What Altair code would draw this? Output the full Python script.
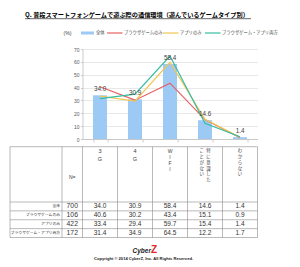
import altair as alt
import pandas as pd

# ---------------- data ----------------
categories = ["3G", "4G", "WIFI", "特に意識したことがない", "わからない"]
groups = ["全体", "ブラウザゲームのみ", "アプリのみ", "ブラウザゲーム・アプリ両方"]
n_values = [700, 106, 422, 172]
overall = [34.0, 30.9, 58.4, 14.6, 1.4]
browser_only = [40.6, 30.2, 43.4, 15.1, 0.9]
app_only = [33.4, 29.4, 59.7, 15.4, 1.4]
both = [31.4, 34.9, 64.5, 12.2, 1.7]
y_ticks = [0, 10, 20, 30, 40, 50, 60, 70]

title_text = "Q. 普段スマートフォンゲームで遊ぶ際の通信環境（遊んでいるゲームタイプ別）"
unit_text = "(%)"
copyright_text = "Copyright © 2014 CyberZ, Inc.  All Rights Reserved."

# header texts (vertical writing)
header_short = {"3G": "3\nG", "4G": "4\nG"}
header_wifi = {"WIFI": "W\nI\nF\nI"}
header_jp = {"わからない": "わ\nか\nら\nな\nい"}
header_toku_right = "特\nに\n意\n識\nし\nた"
header_toku_left = "こ\nと\nが\nな\nい"

# ---------------- style ----------------
FONT = "Liberation Sans, Noto Sans CJK JP"
JFONT = "Noto Sans CJK JP"
BLUE = "#9DC9F5"
RED = "#E5605E"
YELLOW = "#F4C650"
TEAL = "#36BCA2"
BORDER = "#8C8C8C"
TXT = "#333333"

PW, PH = 175, 90  # plot area
xscale = alt.Scale(domain=categories, paddingInner=0.6, paddingOuter=0.3)
yscale = alt.Scale(domain=[0, 70])

# row band positions (relative to plot origin)
HEAD_TOP = 97.7
ROW_TOP = 153.0
ROW_BOT = 188.5
TABLE_L = -72.5
LABEL_R = -20.5
rowscale = alt.Scale(domain=groups, range=[ROW_TOP, ROW_BOT], paddingInner=0, paddingOuter=0)

df_bar = pd.DataFrame({"cat": categories, "value": overall})

layers = []

# bars
layers.append(
    alt.Chart(df_bar).mark_bar(color=BLUE).encode(
        x=alt.X("cat:N", scale=xscale, sort=categories,
                axis=alt.Axis(labels=False, title=None, tickBand="extent", ticks=True,
                              tickSize=3, domainColor="#BFBFBF", tickColor="#BFBFBF",
                              domainWidth=0.8, tickWidth=0.8, grid=False)),
        y=alt.Y("value:Q", scale=yscale,
                axis=alt.Axis(values=y_ticks, grid=True, gridColor="#D9D9D9", gridWidth=0.6,
                              domainColor="#BFBFBF", tickColor="#BFBFBF", tickSize=2,
                              domainWidth=0.8, tickWidth=0.8,
                              labelFontSize=5, labelColor="#595959", labelPadding=1.5,
                              labelFont=FONT, title=None)),
    )
)

# lines
for vals, col in [(browser_only, RED), (app_only, YELLOW), (both, TEAL)]:
    d = pd.DataFrame({"cat": categories, "value": vals})
    layers.append(
        alt.Chart(d).mark_line(color=col, strokeWidth=1.2).encode(
            x=alt.X("cat:N", scale=xscale, sort=categories),
            y=alt.Y("value:Q", scale=yscale, axis=None),
        )
    )

# bar labels
layers.append(
    alt.Chart(df_bar).mark_text(fontSize=6.3, color="#404040", dy=-6, font=FONT).encode(
        x=alt.X("cat:N", scale=xscale, sort=categories),
        y=alt.Y("value:Q", scale=yscale, axis=None),
        text=alt.Text("value:Q", format=".1f"),
    )
)

# ---------------- title ----------------
layers.append(
    alt.Chart(pd.DataFrame({"t": [title_text]})).mark_text(
        align="left", baseline="alphabetic", fontSize=6.2, fontWeight="bold", font=JFONT, color="#000000"
    ).encode(x=alt.value(-57.5), y=alt.value(-32), text="t:N")
)
layers.append(
    alt.Chart(pd.DataFrame({"a": [0]})).mark_rule(color="#000000", strokeWidth=0.6).encode(
        x=alt.value(-57.5), x2=alt.value(168.5), y=alt.value(-30.3)
    )
)

# ---------------- legend ----------------
LY = -16
layers.append(
    alt.Chart(pd.DataFrame({"t": [unit_text]})).mark_text(
        align="center", baseline="middle", fontSize=5, font=FONT, color="#404040"
    ).encode(x=alt.value(-15), y=alt.value(LY - 0.5), text="t:N")
)
layers.append(
    alt.Chart(pd.DataFrame({"a": [0]})).mark_rect(color=BLUE).encode(
        x=alt.value(-1.5), x2=alt.value(11.5), y=alt.value(LY - 1.5), y2=alt.value(LY + 1.5)
    )
)
legend_items = [(groups[0], None, 13.5), (groups[1], RED, 41.5), (groups[2], YELLOW, 97.5), (groups[3], TEAL, 139.5)]
for name, col, tx in legend_items:
    if col is not None:
        layers.append(
            alt.Chart(pd.DataFrame({"a": [0]})).mark_rule(color=col, strokeWidth=1.2).encode(
                x=alt.value(tx - 17), x2=alt.value(tx - 1.5), y=alt.value(LY)
            )
        )
    layers.append(
        alt.Chart(pd.DataFrame({"t": [name]})).mark_text(
            align="left", baseline="middle", fontSize=4.3, font=JFONT, color="#404040"
        ).encode(x=alt.value(tx), y=alt.value(LY), text="t:N")
    )

# ---------------- table ----------------
# borders
h_lines = [HEAD_TOP, ROW_TOP, ROW_TOP + (ROW_BOT - ROW_TOP) / 4, ROW_TOP + (ROW_BOT - ROW_TOP) / 2,
           ROW_TOP + 3 * (ROW_BOT - ROW_TOP) / 4, ROW_BOT]
for yy in h_lines:
    layers.append(
        alt.Chart(pd.DataFrame({"a": [0]})).mark_rule(color=BORDER, strokeWidth=0.6).encode(
            x=alt.value(TABLE_L), x2=alt.value(PW), y=alt.value(yy)
        )
    )
step = PW / len(categories)
v_lines = [TABLE_L, LABEL_R] + [i * step for i in range(len(categories) + 1)]
for xx in v_lines:
    layers.append(
        alt.Chart(pd.DataFrame({"a": [0]})).mark_rule(color=BORDER, strokeWidth=0.6).encode(
            x=alt.value(xx), y=alt.value(HEAD_TOP), y2=alt.value(ROW_BOT)
        )
    )

# header
def header_layer(mapping, size, lh, font, dx=0):
    d = pd.DataFrame({"cat": list(mapping.keys()), "t": list(mapping.values())})
    return alt.Chart(d).mark_text(baseline="top", fontSize=size, lineHeight=lh, lineBreak="\n", dx=dx,
                                  font=font, color="#404040").encode(
        x=alt.X("cat:N", scale=xscale, sort=categories), y=alt.value(HEAD_TOP + 2.5), text="t:N"
    )

layers.append(header_layer(header_short, 5.5, 7.5, FONT))
layers.append(header_layer(header_wifi, 5.0, 5.8, FONT))
layers.append(header_layer(header_jp, 4.4, 5.8, JFONT))
layers.append(header_layer({categories[3]: header_toku_right}, 4.4, 5.8, JFONT, dx=3.4))
layers.append(header_layer({categories[3]: header_toku_left}, 4.4, 5.8, JFONT, dx=-3.4))

layers.append(
    alt.Chart(pd.DataFrame({"t": ["N="]})).mark_text(
        align="center", baseline="middle", fontSize=5, font=FONT, color="#404040"
    ).encode(x=alt.value((LABEL_R + 0) / 2), y=alt.value(128), text="t:N")
)

# row labels and N
d_rows = pd.DataFrame({"group": groups, "n": n_values})
layers.append(
    alt.Chart(d_rows).mark_text(align="right", baseline="middle", fontSize=3.8, font=JFONT, color=TXT).encode(
        x=alt.value(LABEL_R - 2), y=alt.Y("group:N", scale=rowscale, sort=groups, axis=None), text="group:N"
    )
)
layers.append(
    alt.Chart(d_rows).mark_text(align="center", baseline="middle", fontSize=6.8, font=FONT, color=TXT).encode(
        x=alt.value(LABEL_R / 2), y=alt.Y("group:N", scale=rowscale, sort=groups, axis=None), text="n:Q"
    )
)

# table values
rows = []
for g, vals in zip(groups, [overall, browser_only, app_only, both]):
    for c, v in zip(categories, vals):
        rows.append({"group": g, "cat": c, "value": v})
d_tab = pd.DataFrame(rows)
layers.append(
    alt.Chart(d_tab).mark_text(align="center", baseline="middle", fontSize=6.5, font=FONT, color=TXT).encode(
        x=alt.X("cat:N", scale=xscale, sort=categories),
        y=alt.Y("group:N", scale=rowscale, sort=groups, axis=None),
        text=alt.Text("value:Q", format=".1f"),
    )
)

# ---------------- logo & copyright ----------------
layers.append(
    alt.Chart(pd.DataFrame({"t": ["Cyber"]})).mark_text(
        align="right", baseline="alphabetic", fontSize=6.5, fontWeight="bold", fontStyle="italic",
        font=FONT, color="#222222"
    ).encode(x=alt.value(68.5), y=alt.value(203.5), text="t:N")
)
layers.append(
    alt.Chart(pd.DataFrame({"t": ["Z"]})).mark_text(
        align="left", baseline="alphabetic", fontSize=10, fontWeight="bold", font=FONT, color="#E0282E"
    ).encode(x=alt.value(68.5), y=alt.value(204), text="t:N")
)
layers.append(
    alt.Chart(pd.DataFrame({"t": [copyright_text]})).mark_text(
        align="center", baseline="middle", fontSize=4.1, fontWeight="bold", font=FONT, color="#222222"
    ).encode(x=alt.value(61), y=alt.value(209.5), text="t:N")
)

chart = alt.layer(*layers).resolve_scale(y="independent").properties(
    width=PW, height=PH,
    padding={"left": 82.5, "top": 49, "right": 42.5, "bottom": 128},
    autosize=alt.AutoSizeParams(type="none"),
    background="white",
).configure_view(stroke=None)

chart.save("out.html", embed_options={"renderer": "svg", "actions": False})
